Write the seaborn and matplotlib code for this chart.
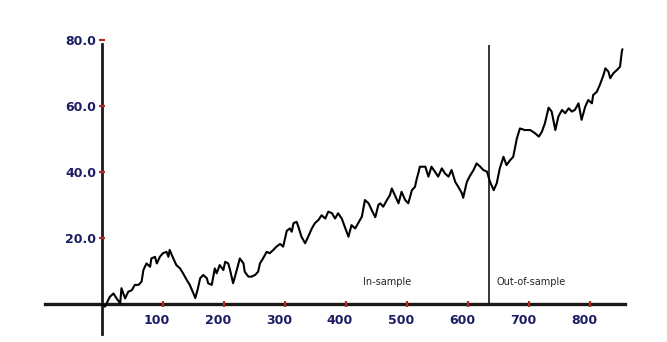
import matplotlib
matplotlib.use("Agg")
import matplotlib.pyplot as plt
import matplotlib.transforms as mtransforms
import seaborn as sns
import numpy as np

# values
steps = [0, 5, 13, 19, 24, 30, 32, 38, 43, 49, 54, 60, 65, 68, 73, 79, 81, 87, 90, 95,
         100, 106, 109, 111, 117, 122, 128, 133, 139, 144, 150, 153, 157, 161, 166, 172,
         174, 180, 185, 188, 193, 199, 202, 207, 210, 215, 221, 226, 232, 234, 240, 245,
         251, 256, 259, 264, 270, 275, 281, 286, 292, 297, 303, 308, 311, 314, 319, 322,
         327, 333, 338, 344, 349, 355, 360, 366, 371, 377, 382, 387, 393, 398, 404, 409,
         415, 420, 426, 431, 437, 442, 448, 453, 456, 461, 467, 472, 475, 480, 486, 491,
         497, 502, 508, 513, 516, 519, 521, 530, 535, 540, 546, 551, 557, 562, 568, 573,
         579, 584, 590, 592, 598, 603, 609, 614, 620, 625, 631, 636, 642, 647, 652, 658,
         663, 669, 674, 680, 685, 693, 702, 710, 716, 721, 726, 732, 737, 743, 748, 754,
         759, 765, 770, 775, 781, 786, 792, 797, 803, 805, 811, 816, 822, 825, 830, 833,
         838, 844, 849, 852, 853]
price = [0.0, -0.8, 2.2, 3.2, 1.7, 0.2, 4.8, 1.7, 3.7, 4.2, 5.8, 5.8, 6.8, 10.3, 12.3, 11.3,
         13.8, 14.3, 12.3, 14.3, 15.4, 15.8, 14.3, 16.4, 13.8, 11.8, 10.8, 9.3, 7.3, 5.8,
         3.2, 1.8, 4.5, 7.8, 8.8, 7.8, 6.3, 5.8, 10.8, 9.3, 11.8, 10.3, 12.8, 12.3, 10.3,
         6.3, 10.3, 13.8, 12.3, 9.8, 8.3, 8.3, 8.8, 9.8, 12.3, 13.8, 15.8, 15.4, 16.4, 17.4,
         18.2, 17.4, 22.2, 22.9, 21.9, 24.5, 24.9, 23.4, 20.4, 18.4, 20.4, 22.9, 24.5, 25.5,
         26.9, 25.9, 28.0, 27.5, 25.9, 27.5, 25.9, 23.4, 20.4, 23.9, 22.9, 24.5, 26.5, 31.5,
         30.5, 28.5, 26.3, 30.0, 30.5, 29.5, 31.5, 33.0, 35.0, 33.0, 30.5, 34.0, 31.5, 30.5,
         34.5, 35.5, 38.0, 40.0, 41.6, 41.6, 38.6, 41.6, 40.0, 38.6, 41.1, 39.6, 38.6, 40.6,
         37.0, 35.5, 33.5, 32.2, 37.0, 38.8, 40.6, 42.6, 41.6, 40.6, 40.1, 37.0, 34.5, 36.6,
         41.1, 44.6, 42.1, 43.6, 44.6, 50.2, 53.2, 52.7, 52.7, 51.7, 50.7, 52.2, 54.8, 59.5,
         58.3, 52.7, 56.8, 58.8, 57.8, 59.3, 58.3, 58.8, 60.8, 55.8, 59.8, 61.8, 60.8, 63.3,
         64.3, 66.4, 69.4, 71.4, 70.4, 68.4, 69.9, 70.9, 71.9, 76.5, 77.2]
split_step = 635
x_ticks = [100, 200, 300, 400, 500, 600, 700, 800]
y_ticks = [20, 40, 60, 80]

sns.set_style("white")
plt.rcParams['font.family'] = ['DejaVu Sans']

fig = plt.figure(figsize=(6.67, 3.42), dpi=100)
ax = fig.add_axes([0, 0, 1, 1])

sns.lineplot(x=steps, y=price, ax=ax, color='black', lw=1.5, estimator=None, sort=False)
ax.vlines(split_step, 0, 78.5, color='black', lw=1.1)

ax.text(428, 6.7, 'In-sample', fontsize=7, va='center', ha='left')
ax.text(646, 6.7, 'Out-of-sample', fontsize=7, va='center', ha='left')

ax.set_xlim(-167, 926)
ax.set_ylim(-11.5, 92.1)

for side in ['top', 'right']:
    ax.spines[side].set_visible(False)
ax.spines['left'].set_position(('data', 0))
ax.spines['bottom'].set_position(('data', 0))
ax.spines['left'].set_bounds(-9.1, 78.8)
ax.spines['bottom'].set_bounds(-93, 857)
ax.spines['left'].set_linewidth(2.0)
ax.spines['bottom'].set_linewidth(2.4)
for side in ['left', 'bottom']:
    ax.spines[side].set_color('#1a1a1a')
    ax.spines[side].set_zorder(1)

ax.set_xticks(x_ticks)
ax.set_yticks(y_ticks)
ax.set_yticklabels([f'{v:.1f}' for v in y_ticks])
ax.tick_params(axis='both', bottom=True, left=True, colors='#b02a2a', length=4,
               width=1.6, direction='inout', labelcolor='#1c1c66', labelsize=9)
ax.tick_params(axis='x', pad=5)
ax.tick_params(axis='y', pad=2)
ax.xaxis.set_zorder(3)
ax.yaxis.set_zorder(3)
for lab in ax.get_xticklabels() + ax.get_yticklabels():
    lab.set_fontweight('bold')

# the labels of the x ticks sit a little left of their ticks
shift = mtransforms.ScaledTranslation(-6 / 100, 0, fig.dpi_scale_trans)
for lab in ax.get_xticklabels():
    lab.set_transform(lab.get_transform() + shift)

ax.set_xlabel('')
ax.set_ylabel('')
fig.savefig('out.png', dpi=100)
